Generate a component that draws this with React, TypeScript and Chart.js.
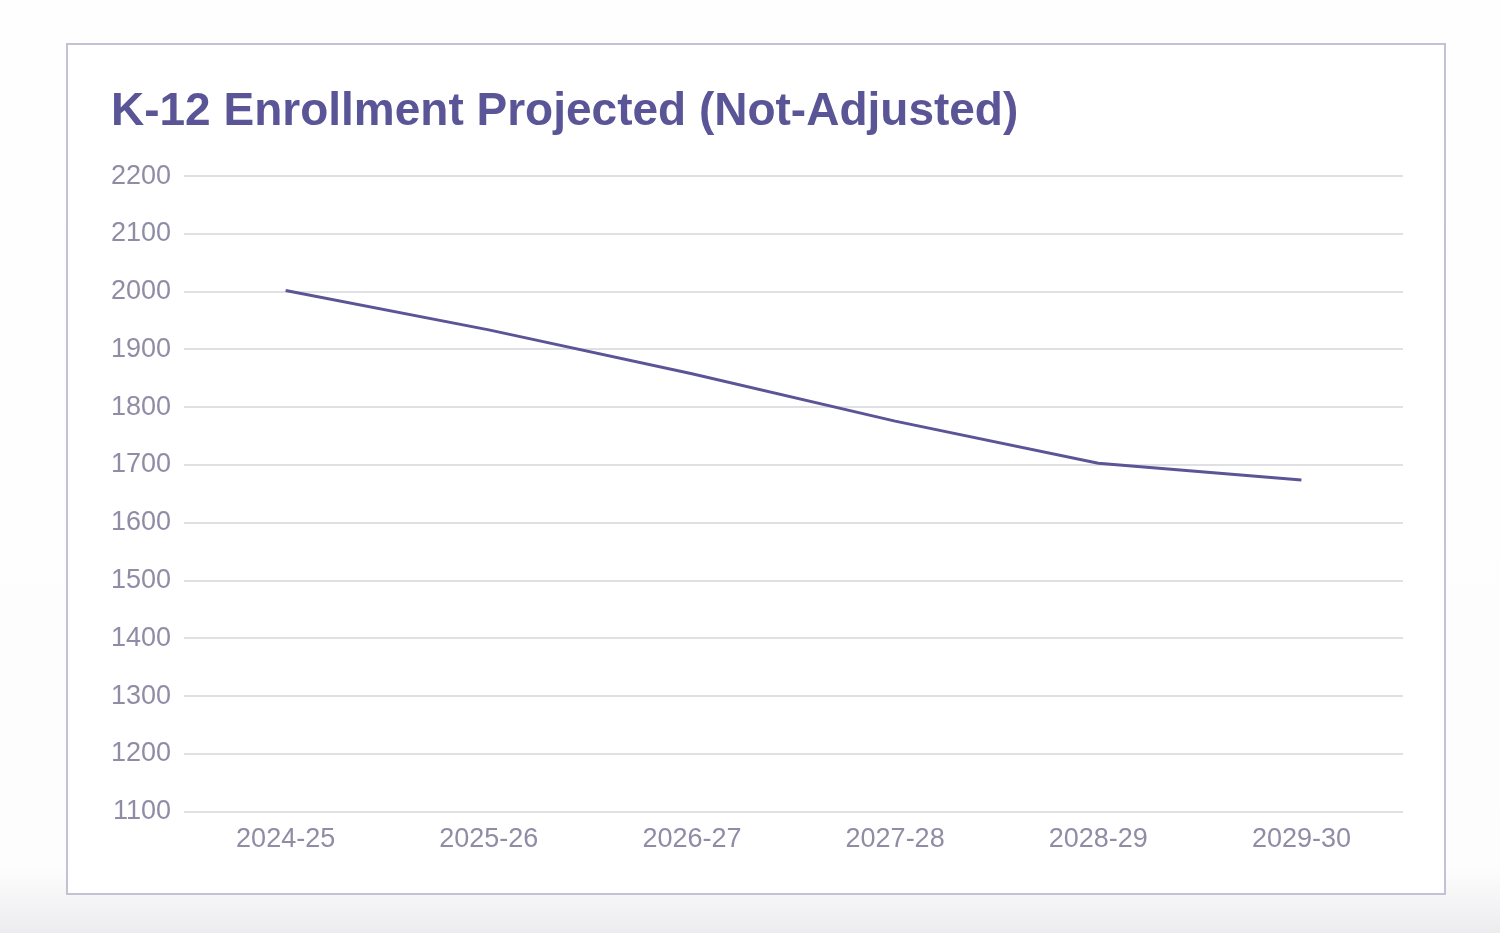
import React, { useEffect, useRef } from "react";
import { Chart, registerables } from "chart.js";

Chart.register(...registerables);

const TITLE = "K-12 Enrollment Projected (Not-Adjusted)";
const categories = ["2024-25", "2025-26", "2026-27", "2027-28", "2028-29", "2029-30"];
const enrollment = [2002, 1934, 1858, 1776, 1703, 1674];
const yMin = 1100;
const yMax = 2200;
const yStep = 100;

export default function App() {
  const ref = useRef<HTMLCanvasElement | null>(null);

  useEffect(() => {
    if (!ref.current) return;
    const font = "'Liberation Sans', Arial, sans-serif";
    const chart = new Chart(ref.current, {
      type: "line",
      data: {
        labels: categories,
        datasets: [
          {
            label: "K-12 Enrollment",
            data: enrollment,
            borderColor: "#5b5598",
            borderWidth: 3,
            pointRadius: 0,
            tension: 0,
            fill: false,
          },
        ],
      },
      options: {
        responsive: false,
        animation: false,
        layout: { padding: { left: 43, right: 41, top: 0, bottom: 25 } },
        plugins: {
          legend: { display: false },
          tooltip: { enabled: false },
          title: {
            display: true,
            text: TITLE,
            align: "start",
            color: "#5a5596",
            font: { family: font, size: 46, weight: "bold" },
            padding: { top: 40, bottom: 36 },
          },
        },
        scales: {
          x: {
            offset: true,
            grid: { display: false, drawTicks: false },
            border: { display: false },
            ticks: {
              color: "#8f8ca6",
              font: { family: font, size: 27 },
              padding: 12,
              maxRotation: 0,
            },
          },
          y: {
            min: yMin,
            max: yMax,
            grid: { color: "#e0e0e4", lineWidth: 2, drawTicks: false },
            border: { display: false },
            afterFit: (axis: any) => {
              axis.width = axis.width - 13;
            },
            ticks: {
              stepSize: yStep,
              color: "#8f8ca6",
              font: { family: font, size: 27 },
              padding: 13,
              callback: (v: any) => String(v),
            },
          },
        },
      },
    });
    return () => chart.destroy();
  }, []);

  return (
    <div
      style={{
        position: "fixed",
        left: 0,
        top: 0,
        width: 1500,
        height: 933,
        background: "linear-gradient(to bottom, #fefefe 0%, #fdfdfd 93%, #ececef 100%)",
      }}
    >
      <div
        style={{
          position: "absolute",
          left: 66,
          top: 43,
          width: 1380,
          height: 852,
          border: "2px solid #c4c1d6",
          boxSizing: "border-box",
          background: "#ffffff",
        }}
      >
        <canvas ref={ref} width={1376} height={848} style={{ display: "block" }} />
      </div>
    </div>
  );
}
